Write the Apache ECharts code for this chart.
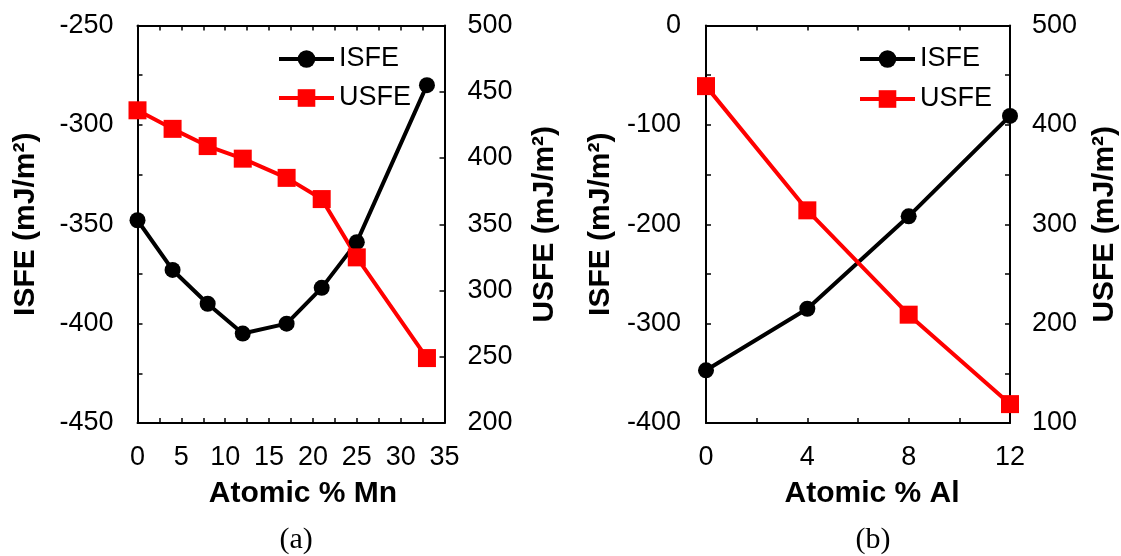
<!DOCTYPE html>
<html>
<head>
<meta charset="utf-8">
<script src="https://cdn.jsdelivr.net/npm/echarts@6/dist/echarts.min.js"></script>
<style>html,body{margin:0;padding:0;background:#fff;}#c{width:1121px;height:556px;}</style>
</head>
<body>
<div id="c"></div>
<script>
// Panel (a): Mn
const mnX = [0, 4, 8, 12, 17, 21, 25, 33];
const mnISFE = [-348, -373, -390, -405, -400, -382, -359, -280];
const mnUSFE = [436, 422, 409, 399.5, 385, 369, 325, 249];
// Panel (b): Al
const alX = [0, 4, 8, 12];
const alISFE = [-347, -285, -192, -91];
const alUSFE = [439, 314, 209, 119];

const FONT = 'Liberation Sans, Arial, sans-serif';
const pairs = (xs, ys) => xs.map((x, i) => [x, ys[i]]);

const axisBase = {
  axisLine: { show: true, onZero: false, lineStyle: { color: '#000', width: 2 } },
  axisTick: { show: true, inside: true, length: 5, lineStyle: { color: '#000', width: 1.5 } },
  splitLine: { show: false },
  axisLabel: { color: '#000', fontFamily: FONT, fontSize: 27 }
};
function ax(extra) {
  const o = JSON.parse(JSON.stringify(axisBase));
  for (const k in extra) {
    if (typeof extra[k] === 'object' && !Array.isArray(extra[k]) && o[k]) Object.assign(o[k], extra[k]);
    else o[k] = extra[k];
  }
  return o;
}
const minor = { show: true, splitNumber: 2, length: 5, lineStyle: { color: '#000', width: 1.5 } };
const nameStyle = { color: '#000', fontFamily: FONT, fontSize: 30, fontWeight: 'bold' };

const option = {
  backgroundColor: '#fff',
  animation: false,
  grid: [
    { left: 137.5, right: 676.5, top: 25.5, bottom: 133 },
    { left: 706, right: 111, top: 25.5, bottom: 133 }
  ],
  xAxis: [
    ax({ type: 'value', gridIndex: 0, position: 'bottom', min: 0, max: 35, interval: 5,
         minorTick: minor, axisLabel: { margin: 21 },
         name: 'Atomic % Mn', nameLocation: 'middle', nameGap: 56,
         nameTextStyle: Object.assign({ padding: [0, 0, 0, 24] }, nameStyle) }),
    ax({ type: 'value', gridIndex: 0, position: 'top', min: 0, max: 35, interval: 5,
         minorTick: minor, axisLabel: { show: false } }),
    ax({ type: 'value', gridIndex: 1, position: 'bottom', min: 0, max: 12, interval: 4,
         minorTick: minor, axisLabel: { margin: 21 },
         name: 'Atomic % Al', nameLocation: 'middle', nameGap: 56,
         nameTextStyle: Object.assign({ padding: [0, 0, 0, 28] }, nameStyle) }),
    ax({ type: 'value', gridIndex: 1, position: 'top', min: 0, max: 12, interval: 4,
         minorTick: minor, axisLabel: { show: false } })
  ],
  yAxis: [
    ax({ type: 'value', gridIndex: 0, position: 'left', min: -450, max: -250, interval: 50,
         minorTick: minor, axisLabel: { margin: 24 },
         name: 'ISFE (mJ/m²)', nameLocation: 'middle', nameGap: 97, nameRotate: 90,
         nameTextStyle: nameStyle }),
    ax({ type: 'value', gridIndex: 0, position: 'right', min: 200, max: 500, interval: 50,
         axisLabel: { margin: 23 },
         name: 'USFE (mJ/m²)', nameLocation: 'middle', nameGap: 85, nameRotate: 90,
         nameTextStyle: nameStyle }),
    ax({ type: 'value', gridIndex: 1, position: 'left', min: -400, max: 0, interval: 100,
         minorTick: minor, axisLabel: { margin: 25 },
         name: 'ISFE (mJ/m²)', nameLocation: 'middle', nameGap: 90, nameRotate: 90,
         nameTextStyle: nameStyle }),
    ax({ type: 'value', gridIndex: 1, position: 'right', min: 100, max: 500, interval: 100,
         minorTick: minor, axisLabel: { margin: 22 },
         name: 'USFE (mJ/m²)', nameLocation: 'middle', nameGap: 80, nameRotate: 90,
         nameTextStyle: nameStyle })
  ],
  legend: [
    { orient: 'vertical', left: 277, top: 45.5, padding: 0, itemWidth: 55, itemHeight: 22, itemGap: 12,
      data: ['ISFE', 'USFE'], lineStyle: { width: 4 },
      textStyle: { color: '#000', fontFamily: FONT, fontSize: 27, lineHeight: 27 } },
    { orient: 'vertical', left: 858, top: 45.5, padding: 0, itemWidth: 55, itemHeight: 22, itemGap: 13,
      data: ['ISFE', 'USFE'], lineStyle: { width: 4 },
      textStyle: { color: '#000', fontFamily: FONT, fontSize: 27, lineHeight: 27 } }
  ],
  series: [
    { name: 'ISFE', type: 'line', xAxisIndex: 0, yAxisIndex: 0, data: pairs(mnX, mnISFE),
      symbol: 'circle', symbolSize: 16, color: '#000',
      lineStyle: { color: '#000', width: 4 }, itemStyle: { color: '#000' } },
    { name: 'USFE', type: 'line', xAxisIndex: 0, yAxisIndex: 1, data: pairs(mnX, mnUSFE),
      symbol: 'rect', symbolSize: 18, color: '#ff0000',
      lineStyle: { color: '#ff0000', width: 4 }, itemStyle: { color: '#ff0000' } },
    { name: 'ISFE', type: 'line', xAxisIndex: 2, yAxisIndex: 2, data: pairs(alX, alISFE),
      symbol: 'circle', symbolSize: 16, color: '#000',
      lineStyle: { color: '#000', width: 4 }, itemStyle: { color: '#000' } },
    { name: 'USFE', type: 'line', xAxisIndex: 2, yAxisIndex: 3, data: pairs(alX, alUSFE),
      symbol: 'rect', symbolSize: 18, color: '#ff0000',
      lineStyle: { color: '#ff0000', width: 4 }, itemStyle: { color: '#ff0000' } }
  ],
  graphic: [
    { type: 'text', left: 295.5 - 16, top: 525, style: { text: '(a)', fill: '#000',
      font: '30px "Liberation Serif", "Times New Roman", serif' } },
    { type: 'text', left: 871.5 - 16, top: 525, style: { text: '(b)', fill: '#000',
      font: '30px "Liberation Serif", "Times New Roman", serif' } }
  ]
};
const chart = echarts.init(document.getElementById('c'), null, { renderer: 'canvas' });
chart.setOption(option);
</script>
</body>
</html>
